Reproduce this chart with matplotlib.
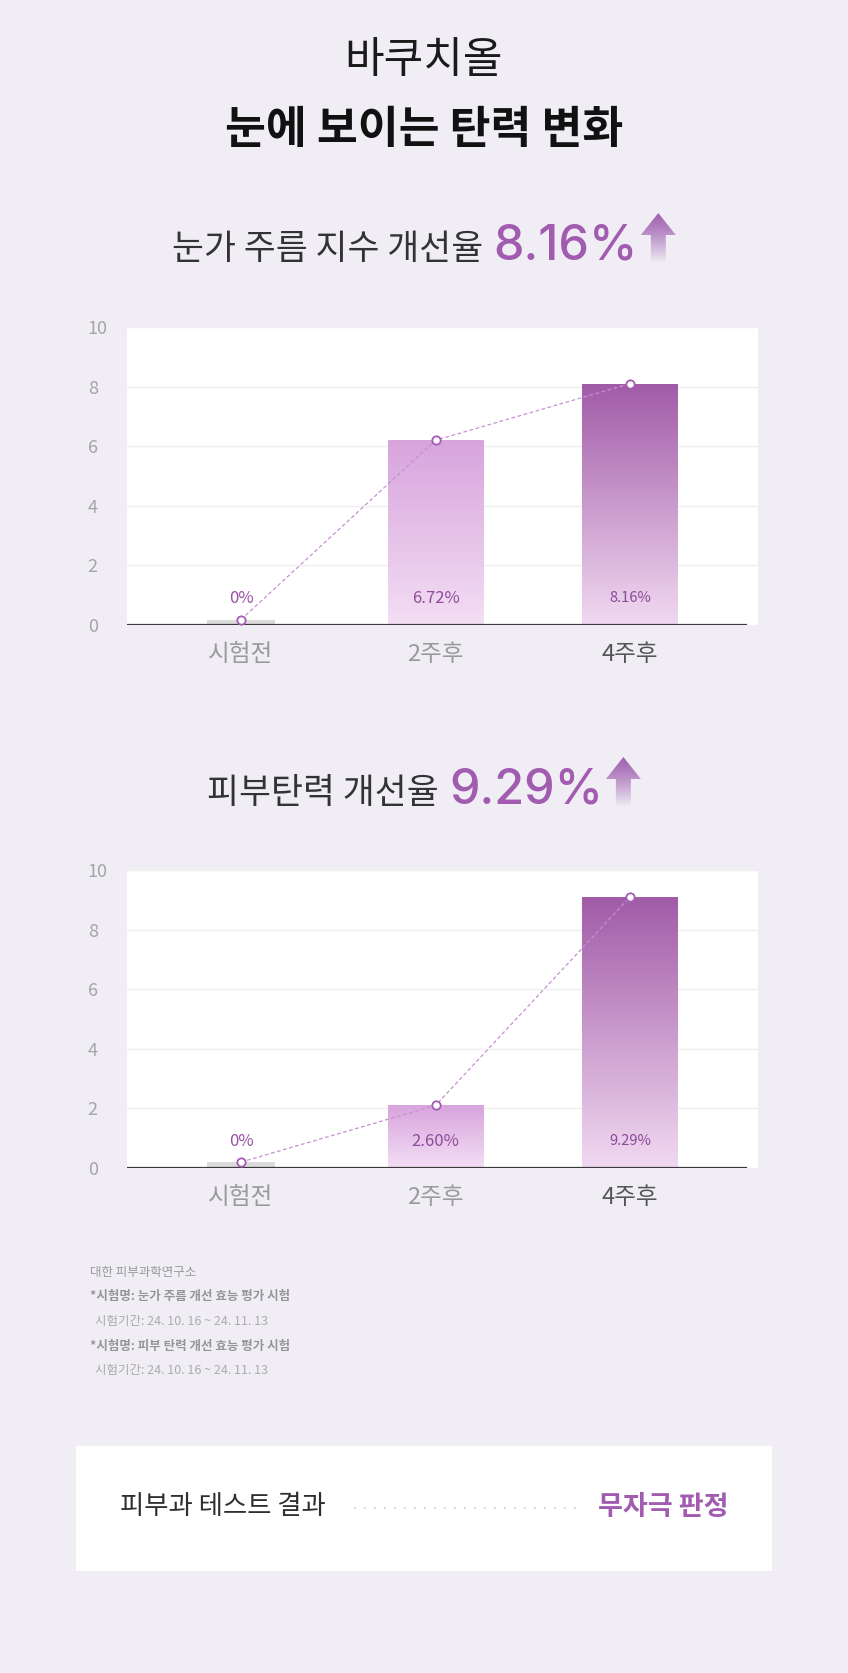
import numpy as np
import matplotlib
matplotlib.use("Agg")
import matplotlib.pyplot as plt
from matplotlib.colors import LinearSegmentedColormap, to_rgb
from matplotlib.patches import Rectangle, Polygon

plt.rcParams['font.family'] = ['Noto Sans CJK KR', 'DejaVu Sans']

# --- données ---
categories = ['시험전', '2주후', '4주후']
wrinkle_values = [0.18, 6.2, 8.1]
wrinkle_labels = ['0%', '6.72%', '8.16%']
elastic_values = [0.2, 2.1, 9.1]
elastic_labels = ['0%', '2.60%', '9.29%']
y_ticks = [0, 2, 4, 6, 8, 10]

title_top = '바쿠치올'
title_main = '눈에 보이는 탄력 변화'
headline1 = ('눈가 주름 지수 개선율', '8.16%')
headline2 = ('피부탄력 개선율', '9.29%')

notes = [
    '대한 피부과학연구소',
    '*시험명: 눈가 주름 개선 효능 평가 시험',
    '시험기간: 24. 10. 16 ~ 24. 11. 13',
    '*시험명: 피부 탄력 개선 효능 평가 시험',
    '시험기간: 24. 10. 16 ~ 24. 11. 13',
]
result_left = '피부과 테스트 결과'
result_right = '무자극 판정'

# --- style ---
BG = '#F0EEF4'
PURPLE = '#A15CB0'
W, H = 848, 1673

fig = plt.figure(figsize=(W / 100, H / 100), dpi=100, facecolor=BG)
bg = fig.add_axes([0, 0, 1, 1])
bg.set_xlim(0, W)
bg.set_ylim(H, 0)
bg.axis('off')
renderer = fig.canvas.get_renderer()


def axes_px(left, top, right, bottom):
    return fig.add_axes([left / W, 1 - bottom / H, (right - left) / W, (bottom - top) / H])


def arrow(x0, top, bottom):
    w, head, shaft = 35, 22, 15
    pts = [(x0 + w / 2, top), (x0, top + head), (x0 + (w - shaft) / 2, top + head),
           (x0 + (w - shaft) / 2, bottom), (x0 + (w + shaft) / 2, bottom),
           (x0 + (w + shaft) / 2, top + head), (x0 + w, top + head)]
    poly = Polygon(pts, closed=True, facecolor='none', edgecolor='none', transform=bg.transData)
    bg.add_patch(poly)
    t = np.linspace(0, 1, 200)
    rgba = np.zeros((200, 1, 4))
    rgba[:, 0, :3] = to_rgb('#A263B2')
    rgba[:, 0, 3] = 1 - 0.97 * t ** 1.3
    im = bg.imshow(rgba, extent=[x0, x0 + w, bottom, top], origin='upper', aspect='auto', zorder=3)
    im.set_clip_path(poly)


def headline(y_base, text, number):
    t1 = bg.text(0, y_base, text, fontsize=25, color='#333333', va='baseline', ha='left',
                 fontweight='medium')
    t2 = bg.text(0, y_base, number, fontsize=35, color=PURPLE, va='baseline', ha='left',
                 family=['Inter', 'Noto Sans', 'DejaVu Sans'], fontweight='medium')
    w1 = t1.get_window_extent(renderer).width
    w2 = t2.get_window_extent(renderer).width
    gap, gap2, aw = 10, 3, 35
    x0 = W / 2 - (w1 + gap + w2 + gap2 + aw) / 2
    t1.set_x(x0)
    t2.set_x(x0 + w1 + gap)
    arrow(x0 + w1 + gap + w2 + gap2, y_base - 46, y_base + 3)


def draw_chart(ax, values, labels):
    x = np.arange(len(categories))
    widths = [0.345, 0.49, 0.49]
    gradients = [None, ('#F3DEF4', '#D8A4DD'), ('#F1D9F1', '#A15BA7')]
    bars = ax.bar(x, values, width=widths, color=['#DDDADB', 'none', 'none'], zorder=2)
    for bar, g in zip(bars, gradients):
        if g is None:
            continue
        cmap = LinearSegmentedColormap.from_list('g', g)
        grad = np.linspace(0, 1, 256).reshape(-1, 1)
        x0, w, h = bar.get_x(), bar.get_width(), bar.get_height()
        im = ax.imshow(grad, cmap=cmap, origin='lower', extent=[x0, x0 + w, 0, h],
                       aspect='auto', zorder=2)
        im.set_clip_path(Rectangle((x0, 0), w, h, transform=ax.transData))

    for yt in y_ticks[1:]:
        ax.axhline(yt, color='#EFEFEF', lw=1, zorder=1)
    ax.axhline(0, color='#3A3A3A', lw=1.6, xmax=0.981, zorder=3)

    ax.plot(x, values, ls=(0, (3, 2)), color='#C890D3', lw=0.9, zorder=4,
            marker='o', ms=6, mfc='white', mec='#A65AB5', mew=1.3)

    sizes = [12, 12, 10.5]
    lab_colors = ['#9C4FA7', '#8E4C9A', '#8A4A96']
    for xi, lab, s, c in zip(x, labels, sizes, lab_colors):
        ax.text(xi, 0.9, lab, ha='center', va='center', fontsize=s, color=c, zorder=5)

    ax.set_xlim(-0.588, 2.657)
    ax.set_ylim(0, 10)
    ax.set_facecolor('white')
    for s in ax.spines.values():
        s.set_visible(False)
    ax.set_yticks(y_ticks)
    ax.set_yticklabels([str(t) for t in y_ticks], ha='left')
    ax.tick_params(axis='y', length=0, pad=28, labelsize=13, labelcolor='#A5A5A5')
    ax.set_xticks(x)
    ax.set_xticklabels(categories)
    ax.tick_params(axis='x', length=0, pad=13, labelsize=17)
    for lbl, c in zip(ax.get_xticklabels(), ['#9A9A9A', '#9A9A9A', '#555555']):
        lbl.set_color(c)


# titres
bg.text(W / 2, 61, title_top, fontsize=31, color='#1A1A1A', ha='center', va='center')
bg.text(W / 2, 130, title_main, fontsize=32, color='#111111', ha='center', va='center',
        fontweight='bold')

headline(259, *headline1)
headline(803, *headline2)

ax1 = axes_px(126.6, 327, 758, 625)
draw_chart(ax1, wrinkle_values, wrinkle_labels)
ax2 = axes_px(126.6, 870, 758, 1168)
draw_chart(ax2, elastic_values, elastic_labels)

# notes
note_y = [1272.5, 1296.5, 1321.5, 1346.5, 1370.5]
note_x = [90, 90, 95, 90, 95]
note_c = ['#9A9A9A', '#959595', '#ACACAC', '#959595', '#ACACAC']
note_w = ['medium', 'bold', 'normal', 'bold', 'normal']
for txt, xx, yy, c, fw in zip(notes, note_x, note_y, note_c, note_w):
    bg.text(xx, yy, txt, fontsize=9, color=c, ha='left', va='center', fontweight=fw)

# encadré résultat
bg.add_patch(Rectangle((76, 1446), 695.6, 124.7, facecolor='white', edgecolor='none'))
bg.text(120, 1507, result_left, fontsize=19, color='#2F2F2F', ha='left', va='center',
        fontweight='medium')
bg.plot([354, 579], [1508, 1508], ls=(0, (1, 5)), color='#CCCCCC', lw=1.2)
bg.text(728, 1507, result_right, fontsize=19.5, color=PURPLE, ha='right', va='center',
        fontweight='bold')

bg.set_xlim(0, W)
bg.set_ylim(H, 0)

fig.savefig('out.png', dpi=100, facecolor=BG)
